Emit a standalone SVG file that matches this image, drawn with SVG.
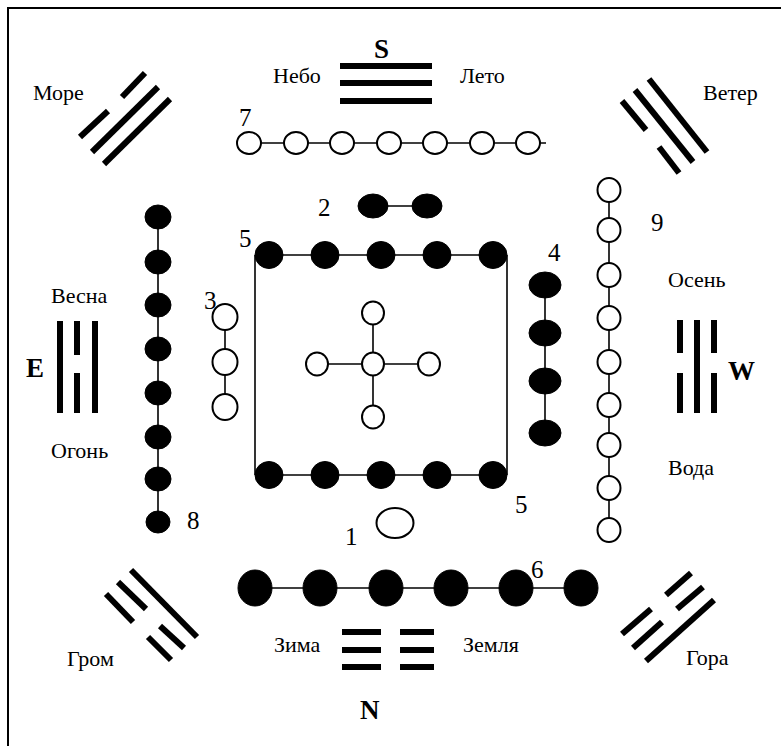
<svg xmlns="http://www.w3.org/2000/svg" width="781" height="746" viewBox="0 0 781 746">
<style>
text{font-family:"Liberation Serif","DejaVu Serif","Noto Serif",serif;fill:#000}
.t{font-size:22px}
.n{font-size:25px}
.b{font-size:27px;font-weight:bold}
.bar{stroke:#000;stroke-width:6;stroke-linecap:butt;fill:none}
.c{stroke:#000;stroke-width:1.6;fill:none}
.o{fill:#fff;stroke:#000;stroke-width:2}
.f{fill:#000;stroke:#000;stroke-width:1}
</style>
<rect width="781" height="746" fill="#fff"/>
<g id="frame">
<line x1="7" y1="8" x2="781" y2="8" stroke="#000" stroke-width="2"/>
<line x1="8" y1="8" x2="8" y2="746" stroke="#000" stroke-width="2"/>
</g>
<g id="connectors">
<line class="c" x1="237" y1="143" x2="546" y2="143"/>
<line class="c" x1="158" y1="217" x2="158" y2="522"/>
<line class="c" x1="225" y1="317" x2="225" y2="407"/>
<line class="c" x1="373" y1="206" x2="427" y2="206"/>
<line class="c" x1="269" y1="255" x2="492" y2="255"/>
<line class="c" x1="269" y1="475" x2="492" y2="475"/>
<line class="c" x1="255" y1="255" x2="255" y2="475"/>
<line class="c" x1="507" y1="255" x2="507" y2="475"/>
<line class="c" x1="373" y1="313" x2="373" y2="417"/>
<line class="c" x1="317" y1="364" x2="429" y2="364"/>
<line class="c" x1="545" y1="285" x2="545" y2="433"/>
<line class="c" x1="609" y1="190" x2="609" y2="530"/>
<line class="c" x1="255" y1="588" x2="581" y2="588"/>
</g>
<g id="trigram-S">
<line class="bar" x1="340" y1="66" x2="432" y2="66"/>
<line class="bar" x1="340" y1="83" x2="432" y2="83"/>
<line class="bar" x1="340" y1="101" x2="432" y2="101"/>
<text class="b" x="374" y="58">S</text>
<text class="t" x="273" y="83">Небо</text>
<text class="t" x="460" y="83">Лето</text>
</g>
<g id="trigram-more">
<line class="bar" x1="80" y1="137" x2="108" y2="111"/>
<line class="bar" x1="122" y1="97" x2="145" y2="73"/>
<line class="bar" x1="92" y1="152" x2="158" y2="87"/>
<line class="bar" x1="104" y1="164" x2="170" y2="99"/>
<text class="t" x="33" y="100">Море</text>
</g>
<g id="trigram-veter">
<line class="bar" x1="622" y1="101" x2="646" y2="130"/>
<line class="bar" x1="659" y1="147" x2="679" y2="173"/>
<line class="bar" x1="635" y1="90" x2="693" y2="162"/>
<line class="bar" x1="649" y1="79" x2="707" y2="152"/>
<text class="t" x="703" y="100">Ветер</text>
</g>
<g id="trigram-grom">
<line class="bar" x1="131" y1="570" x2="197" y2="637"/>
<line class="bar" x1="118" y1="582" x2="146" y2="609"/>
<line class="bar" x1="160" y1="626" x2="184" y2="648"/>
<line class="bar" x1="106" y1="594" x2="133" y2="622"/>
<line class="bar" x1="148" y1="637" x2="171" y2="660"/>
<text class="t" x="67" y="666">Гром</text>
</g>
<g id="trigram-gora">
<line class="bar" x1="622" y1="634" x2="651" y2="609"/>
<line class="bar" x1="666" y1="595" x2="691" y2="573"/>
<line class="bar" x1="633" y1="648" x2="662" y2="622"/>
<line class="bar" x1="677" y1="609" x2="703" y2="587"/>
<line class="bar" x1="646" y1="661" x2="714" y2="600"/>
<text class="t" x="686" y="665">Гора</text>
</g>
<g id="trigram-E">
<line class="bar" x1="60" y1="321" x2="60" y2="413"/>
<line class="bar" x1="77" y1="321" x2="77" y2="355"/>
<line class="bar" x1="77" y1="373" x2="77" y2="413"/>
<line class="bar" x1="95" y1="321" x2="95" y2="413"/>
<text class="b" x="26" y="377">E</text>
<text class="t" x="51" y="303">Весна</text>
<text class="t" x="51" y="458">Огонь</text>
</g>
<g id="trigram-W">
<line class="bar" x1="680" y1="320" x2="680" y2="353"/>
<line class="bar" x1="680" y1="373" x2="680" y2="413"/>
<line class="bar" x1="697" y1="320" x2="697" y2="413"/>
<line class="bar" x1="714" y1="320" x2="714" y2="353"/>
<line class="bar" x1="714" y1="373" x2="714" y2="413"/>
<text class="b" x="728" y="380">W</text>
<text class="t" x="668" y="287">Осень</text>
<text class="t" x="668" y="475">Вода</text>
</g>
<g id="trigram-N">
<line class="bar" x1="342" y1="632" x2="381" y2="632"/>
<line class="bar" x1="342" y1="650" x2="381" y2="650"/>
<line class="bar" x1="342" y1="667" x2="381" y2="667"/>
<line class="bar" x1="400" y1="632" x2="434" y2="632"/>
<line class="bar" x1="400" y1="650" x2="434" y2="650"/>
<line class="bar" x1="400" y1="667" x2="434" y2="667"/>
<text class="b" x="360" y="719">N</text>
<text class="t" x="274" y="652">Зима</text>
<text class="t" x="463" y="652">Земля</text>
</g>
<g id="node-7">
<ellipse class="o" cx="249" cy="143" rx="12" ry="11"/>
<ellipse class="o" cx="296" cy="143" rx="12" ry="11"/>
<ellipse class="o" cx="342" cy="143" rx="12" ry="11"/>
<ellipse class="o" cx="389" cy="143" rx="12" ry="11"/>
<ellipse class="o" cx="435" cy="143" rx="12" ry="11"/>
<ellipse class="o" cx="482" cy="143" rx="12" ry="11"/>
<ellipse class="o" cx="528" cy="143" rx="12" ry="11"/>
<text class="n" x="239" y="126">7</text>
</g>
<g id="node-8">
<ellipse class="f" cx="158" cy="217" rx="13" ry="12"/>
<ellipse class="f" cx="158" cy="262" rx="13" ry="12"/>
<ellipse class="f" cx="158" cy="305" rx="13" ry="12"/>
<ellipse class="f" cx="158" cy="349" rx="13" ry="12"/>
<ellipse class="f" cx="158" cy="393" rx="13" ry="12"/>
<ellipse class="f" cx="158" cy="437" rx="13" ry="12"/>
<ellipse class="f" cx="158" cy="479" rx="13" ry="12"/>
<ellipse class="f" cx="158" cy="522" rx="12" ry="11"/>
<text class="n" x="187" y="529">8</text>
</g>
<g id="node-3">
<ellipse class="o" cx="225" cy="317" rx="12.5" ry="13"/>
<ellipse class="o" cx="225" cy="362" rx="12.5" ry="13"/>
<ellipse class="o" cx="225" cy="407" rx="12.5" ry="13"/>
<text class="n" x="204" y="309">3</text>
</g>
<g id="node-2">
<ellipse class="f" cx="373" cy="206" rx="15" ry="12"/>
<ellipse class="f" cx="427" cy="206" rx="15" ry="12"/>
<text class="n" x="318" y="216">2</text>
</g>
<g id="node-5">
<ellipse class="f" cx="269" cy="255" rx="14" ry="13.5"/>
<ellipse class="f" cx="325" cy="255" rx="14" ry="13.5"/>
<ellipse class="f" cx="381" cy="255" rx="14" ry="13.5"/>
<ellipse class="f" cx="437" cy="255" rx="14" ry="13.5"/>
<ellipse class="f" cx="493" cy="255" rx="14" ry="13.5"/>
<ellipse class="f" cx="269" cy="475" rx="14" ry="13.5"/>
<ellipse class="f" cx="325" cy="475" rx="14" ry="13.5"/>
<ellipse class="f" cx="381" cy="475" rx="14" ry="13.5"/>
<ellipse class="f" cx="437" cy="475" rx="14" ry="13.5"/>
<ellipse class="f" cx="493" cy="475" rx="14" ry="13.5"/>
<text class="n" x="239" y="247">5</text>
<text class="n" x="515" y="513">5</text>
</g>
<g id="node-center">
<ellipse class="o" cx="373" cy="313" rx="11" ry="11.5"/>
<ellipse class="o" cx="373" cy="417" rx="11" ry="11.5"/>
<ellipse class="o" cx="317" cy="364" rx="11" ry="11.5"/>
<ellipse class="o" cx="429" cy="364" rx="11" ry="11.5"/>
<ellipse class="o" cx="373" cy="364" rx="11" ry="11.5"/>
</g>
<g id="node-4">
<ellipse class="f" cx="545" cy="285" rx="16" ry="13"/>
<ellipse class="f" cx="545" cy="333" rx="16" ry="13"/>
<ellipse class="f" cx="545" cy="381" rx="16" ry="13"/>
<ellipse class="f" cx="545" cy="433" rx="16" ry="13"/>
<text class="n" x="548" y="261">4</text>
</g>
<g id="node-9">
<ellipse class="o" cx="609" cy="190" rx="11.5" ry="12"/>
<ellipse class="o" cx="609" cy="230" rx="11.5" ry="12"/>
<ellipse class="o" cx="609" cy="275" rx="11.5" ry="12"/>
<ellipse class="o" cx="609" cy="318" rx="11.5" ry="12"/>
<ellipse class="o" cx="609" cy="362" rx="11.5" ry="12"/>
<ellipse class="o" cx="609" cy="405" rx="11.5" ry="12"/>
<ellipse class="o" cx="609" cy="445" rx="11.5" ry="12"/>
<ellipse class="o" cx="609" cy="488" rx="11.5" ry="12"/>
<ellipse class="o" cx="609" cy="530" rx="11.5" ry="12"/>
<text class="n" x="651" y="231">9</text>
</g>
<g id="node-1">
<ellipse class="o" cx="395" cy="523" rx="18.5" ry="15"/>
<text class="n" x="345" y="545">1</text>
</g>
<g id="node-6">
<ellipse class="f" cx="255" cy="588" rx="17" ry="18"/>
<ellipse class="f" cx="320" cy="588" rx="17" ry="18"/>
<ellipse class="f" cx="386" cy="588" rx="17" ry="18"/>
<ellipse class="f" cx="451" cy="588" rx="17" ry="18"/>
<ellipse class="f" cx="516" cy="588" rx="17" ry="18"/>
<ellipse class="f" cx="581" cy="588" rx="17" ry="18"/>
<text class="n" x="531" y="578">6</text>
</g>
</svg>
